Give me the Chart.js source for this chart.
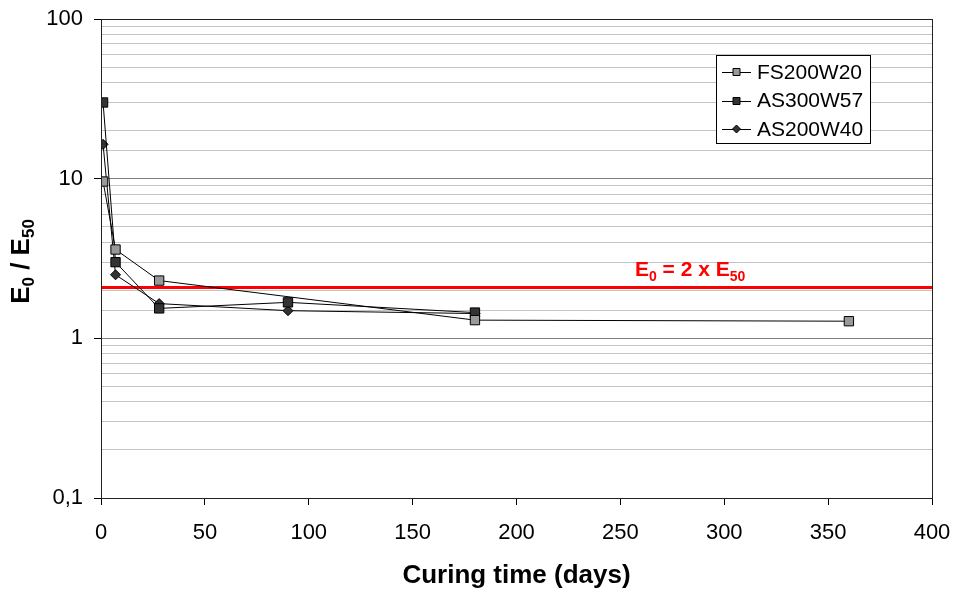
<!DOCTYPE html>
<html>
<head>
<meta charset="utf-8">
<script src="https://cdn.jsdelivr.net/npm/chart.js@4.4.1/dist/chart.umd.min.js"></script>
<style>
  body { margin: 0; background: #fff; }
</style>
</head>
<body>
<canvas id="ratioChart" width="955" height="591"></canvas>
<script>
// Values
const fsDays = [1, 7, 28, 180, 360];
const fsRatio = [9.6, 3.6, 2.3, 1.3, 1.28];

const as300Days = [1, 7, 28, 90, 180];
const as300Ratio = [30, 3.0, 1.54, 1.68, 1.45];

const as200Days = [1, 7, 28, 90, 180];
const as200Ratio = [16.4, 2.5, 1.65, 1.49, 1.43];

// E0 = 2 x E50 reference line
const limitDays = [0, 400];
const limitRatio = [2.08, 2.08];

const yTicks = [0.1, 1, 10, 100];

const FONT = "'Liberation Sans', Arial, sans-serif";

function pairs(xs, ys) {
    return xs.map((x, i) => ({ x: x, y: ys[i] }));
}

function isMajor(v) {
    return yTicks.some(t => Math.abs(t - v) < 1e-9);
}

// draws text with subscript pieces
function drawParts(ctx, parts, x, y, size, subSize, subDrop) {
    let cx = x;
    parts.forEach(p => {
        ctx.font = 'bold ' + (p.sub ? subSize : size) + 'px ' + FONT;
        ctx.fillText(p.t, cx, p.sub ? y + subDrop : y);
        cx += ctx.measureText(p.t).width;
    });
}

function partsWidth(ctx, parts, size, subSize) {
    let w = 0;
    parts.forEach(p => {
        ctx.font = 'bold ' + (p.sub ? subSize : size) + 'px ' + FONT;
        w += ctx.measureText(p.t).width;
    });
    return w;
}

const extras = {
    id: 'extras',
    afterDatasetsDraw(chart) {
        const ctx = chart.ctx;
        const area = chart.chartArea;
        const xs = chart.scales.x;
        const ys = chart.scales.y;

        // plot area frame
        ctx.save();
        ctx.strokeStyle = '#222';
        ctx.lineWidth = 1;
        ctx.strokeRect(Math.round(area.left) + 0.5, Math.round(area.top) + 0.5,
            Math.round(area.right - area.left), Math.round(area.bottom - area.top));
        ctx.restore();

        // red line label
        ctx.save();
        ctx.fillStyle = '#ff0000';
        ctx.textBaseline = 'alphabetic';
        ctx.textAlign = 'left';
        const lx = xs.getPixelForValue(257);
        const ly = ys.getPixelForValue(limitRatio[0]) - 12;
        drawParts(ctx, [{ t: 'E' }, { t: '0', sub: true }, { t: ' = 2 x E' }, { t: '50', sub: true }],
            lx, ly, 21, 14, 5);
        ctx.restore();

        // y axis title with subscripts
        ctx.save();
        ctx.fillStyle = '#000';
        ctx.textBaseline = 'alphabetic';
        ctx.textAlign = 'left';
        const yParts = [{ t: 'E' }, { t: '0', sub: true }, { t: ' / E' }, { t: '50', sub: true }];
        const tw = partsWidth(ctx, yParts, 26, 17);
        ctx.translate(20, (area.top + area.bottom) / 2 + 3);
        ctx.rotate(-Math.PI / 2);
        drawParts(ctx, yParts, -tw / 2, 9, 26, 17, 5);
        ctx.restore();

        // legend box
        const lg = { left: 716, top: 55, right: 870, bottom: 143 };
        ctx.save();
        ctx.fillStyle = '#fff';
        ctx.fillRect(lg.left, lg.top, lg.right - lg.left, lg.bottom - lg.top);
        ctx.strokeStyle = '#000';
        ctx.lineWidth = 1;
        ctx.strokeRect(lg.left + 0.5, lg.top + 0.5, lg.right - lg.left, lg.bottom - lg.top);
        const rowY = [72, 100.5, 129];
        chart.data.datasets.slice(0, 3).forEach((ds, i) => {
            const y = rowY[i];
            ctx.strokeStyle = '#000';
            ctx.beginPath();
            ctx.moveTo(722, Math.round(y) + 0.5);
            ctx.lineTo(751, Math.round(y) + 0.5);
            ctx.stroke();
            ctx.fillStyle = ds.pointBackgroundColor;
            ctx.beginPath();
            if (ds.pointStyle === 'rectRot') {
                ctx.moveTo(736.5, y - 4);
                ctx.lineTo(740.5, y);
                ctx.lineTo(736.5, y + 4);
                ctx.lineTo(732.5, y);
                ctx.closePath();
            } else {
                ctx.rect(733, Math.round(y) - 3.5, 7, 7);
            }
            ctx.fill();
            ctx.stroke();
            ctx.fillStyle = '#000';
            ctx.font = '21px ' + FONT;
            ctx.textBaseline = 'middle';
            ctx.fillText(ds.label, 757, y + 1);
        });
        ctx.restore();
    }
};

const ctx = document.getElementById('ratioChart').getContext('2d');
const ratioChart = new Chart(ctx, {
    type: 'line',
    data: {
        datasets: [{
            label: 'FS200W20',
            data: pairs(fsDays, fsRatio),
            borderColor: '#000',
            borderWidth: 1,
            pointStyle: 'rect',
            pointRadius: 6.6,
            pointBackgroundColor: '#999999',
            pointBorderColor: '#000',
            pointBorderWidth: 1
        }, {
            label: 'AS300W57',
            data: pairs(as300Days, as300Ratio),
            borderColor: '#000',
            borderWidth: 1,
            pointStyle: 'rect',
            pointRadius: 6.6,
            pointBackgroundColor: '#333333',
            pointBorderColor: '#000',
            pointBorderWidth: 1
        }, {
            label: 'AS200W40',
            data: pairs(as200Days, as200Ratio),
            borderColor: '#000',
            borderWidth: 1,
            pointStyle: 'rectRot',
            pointRadius: 5,
            pointBackgroundColor: '#333333',
            pointBorderColor: '#000',
            pointBorderWidth: 1
        }, {
            label: 'limit',
            data: pairs(limitDays, limitRatio),
            borderColor: '#ff0000',
            borderWidth: 3,
            pointRadius: 0
        }]
    },
    options: {
        responsive: false,
        animation: false,
        layout: { padding: { left: 0, top: 19, right: 23, bottom: 0 } },
        plugins: {
            legend: { display: false },
            tooltip: { enabled: false }
        },
        scales: {
            x: {
                type: 'linear',
                min: 0,
                max: 400,
                afterFit: (scale) => {
                    scale.height = 93;
                    scale.paddingLeft = 0;
                    scale.paddingRight = 0;
                },
                ticks: {
                    stepSize: 50,
                    color: '#000',
                    font: { family: FONT, size: 22 },
                    padding: 15,
                    maxRotation: 0
                },
                grid: {
                    drawOnChartArea: false,
                    drawTicks: true,
                    tickLength: 7,
                    tickColor: '#000'
                },
                border: { color: '#000' },
                title: {
                    display: true,
                    text: 'Curing time (days)',
                    color: '#000',
                    font: { family: FONT, size: 26, weight: 'bold' },
                    padding: { top: 0, bottom: 0 }
                }
            },
            y: {
                type: 'logarithmic',
                min: 0.1,
                max: 100,
                afterFit: (scale) => {
                    scale.width = 101;
                    scale.paddingTop = 0;
                    scale.paddingBottom = 0;
                },
                ticks: {
                    autoSkip: false,
                    color: '#000',
                    font: { family: FONT, size: 22 },
                    padding: 11,
                    callback: (v) => isMajor(v) ? String(v).replace('.', ',') : ''
                },
                grid: {
                    color: (c) => isMajor(c.tick.value) ? '#808080' : '#c4c4c4',
                    tickColor: (c) => isMajor(c.tick.value) ? '#000' : 'rgba(0,0,0,0)',
                    tickLength: 7,
                    lineWidth: 1
                },
                border: { color: '#000' }
            }
        }
    },
    plugins: [extras]
});
</script>
</body>
</html>
